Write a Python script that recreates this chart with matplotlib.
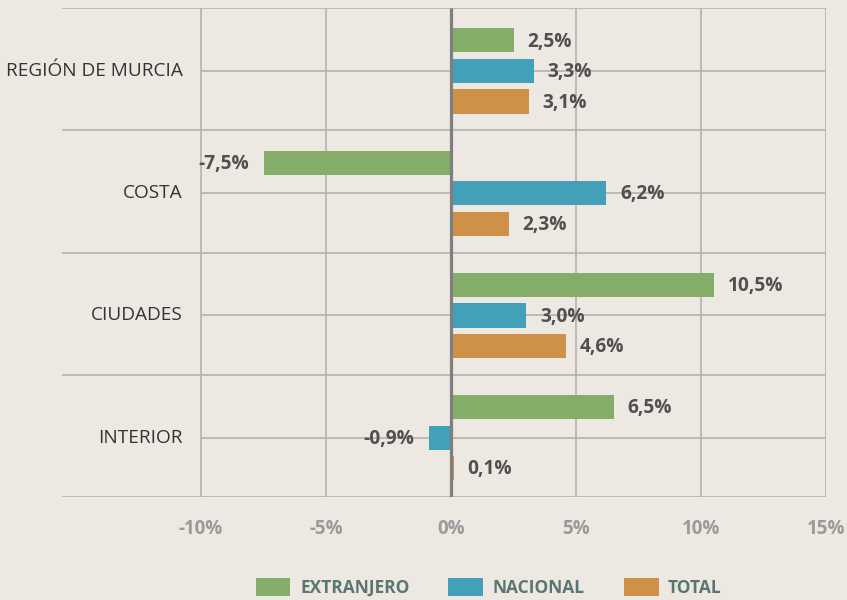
import numpy as np
import matplotlib
matplotlib.use("Agg")
import matplotlib.pyplot as plt
from matplotlib.patches import Patch

# datos del gráfico (variación %)
categorias = ["REGIÓN DE MURCIA", "COSTA", "CIUDADES", "INTERIOR"]
extranjero = [2.5, -7.5, 10.5, 6.5]
nacional = [3.3, 6.2, 3.0, -0.9]
total = [3.1, 2.3, 4.6, 0.1]
series_nombres = ["EXTRANJERO", "NACIONAL", "TOTAL"]
x_ticks = [-10, -5, 0, 5, 10, 15]

FONDO = "#ede8e2"
COLORES = ["#84ad6a", "#42a0b8", "#cf9048"]
REJILLA = "#b3b3b3"

plt.rcParams['font.family'] = ['Open Sans', 'DejaVu Sans']

fig = plt.figure(figsize=(8.47, 6.0), dpi=100, facecolor=FONDO)
ax = fig.add_axes([62 / 847, 1 - 497 / 600, (826 - 62) / 847, (497 - 8) / 600])
ax.set_facecolor(FONDO)

x_min, x_max = -15.56, 15.0
ax.set_xlim(x_min, x_max)
ax.set_ylim(3.5, -0.5)

# el centro de cada grupo queda un poco por debajo de la mitad
y = np.arange(len(categorias)) + 0.015

# rejilla: líneas de separación y líneas centrales de cada grupo
for b in np.arange(-0.5, len(categorias), 1.0):
    ax.hlines(b, x_min, x_max, color=REJILLA, lw=1.2, zorder=1)
for yc in y:
    ax.hlines(yc, -10, x_max, color=REJILLA, lw=1.2, zorder=1)
for xv in x_ticks:
    if xv != 0:
        ax.vlines(xv, -0.5, 3.5, color=REJILLA, lw=1.2, zorder=1)

desp = 0.25
alto = 0.197
series = [extranjero, nacional, total]
for k, (vals, col) in enumerate(zip(series, COLORES)):
    pos = y + (k - 1) * desp
    ax.barh(pos, vals, height=alto, color=col, zorder=2)
    for p, v in zip(pos, vals):
        txt = f"{v:.1f}%".replace(".", ",")
        if v >= 0:
            ax.text(v + 0.56, p + 0.01, txt, ha="left", va="center",
                    fontsize=13.8, fontweight="bold", color="#505050", zorder=3)
        else:
            ax.text(v - 0.56, p + 0.01, txt, ha="right", va="center",
                    fontsize=13.8, fontweight="bold", color="#505050", zorder=3)

# eje cero
ax.vlines(0, -0.5, 3.5, color="#7f7f7f", lw=2.3, zorder=4)

# etiquetas de categorías
for yc, c in zip(y, categorias):
    ax.text(-10.72, yc, c, ha="right", va="center", fontsize=13.7, color="#333333")

ax.set_yticks([])
ax.set_xticks(x_ticks)
ax.set_xticklabels([f"{t}%" for t in x_ticks], fontsize=13.5, fontweight="bold", color="#9a9a9a")
ax.tick_params(axis="x", length=0, pad=16)
for s in ax.spines.values():
    s.set_visible(False)

handles = [Patch(facecolor=c, edgecolor="none") for c in COLORES]
fig.legend(handles, series_nombres, loc="center", bbox_to_anchor=(0.577, 0.021),
           ncol=3, frameon=False, handlelength=2.0, handleheight=1.2,
           handletextpad=0.55, columnspacing=2.25, borderpad=0,
           prop={"size": 12.5, "weight": "bold"}, labelcolor="#5b7672")

fig.savefig("out.png", dpi=100, facecolor=FONDO)
